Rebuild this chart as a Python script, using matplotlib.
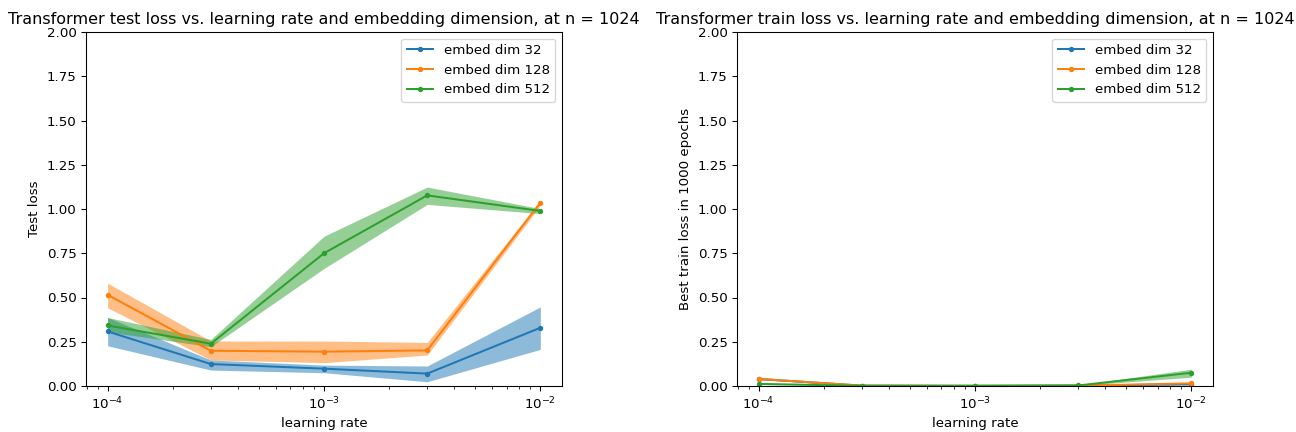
import numpy as np
import matplotlib
matplotlib.use("Agg")
import matplotlib.pyplot as plt

# learning rates swept
learning_rates = [1e-4, 3e-4, 1e-3, 3e-3, 1e-2]
embed_dims = [32, 128, 512]

# test loss (mean, lower, upper) per embed dim
test_mean_32 = [0.308, 0.124, 0.098, 0.070, 0.329]
test_lo_32 = [0.227, 0.090, 0.075, 0.024, 0.207]
test_hi_32 = [0.387, 0.147, 0.118, 0.113, 0.447]

test_mean_128 = [0.515, 0.199, 0.194, 0.201, 1.036]
test_lo_128 = [0.442, 0.147, 0.132, 0.175, 1.020]
test_hi_128 = [0.581, 0.254, 0.254, 0.246, 1.050]

test_mean_512 = [0.342, 0.239, 0.750, 1.077, 0.989]
test_lo_512 = [0.306, 0.222, 0.664, 1.026, 0.974]
test_hi_512 = [0.387, 0.263, 0.846, 1.124, 1.002]

# best train loss (mean, lower, upper) per embed dim
train_mean_32 = [0.040, 0.002, 0.001, 0.002, 0.010]
train_lo_32 = [0.035, 0.001, 0.000, 0.001, 0.006]
train_hi_32 = [0.046, 0.003, 0.002, 0.004, 0.014]

train_mean_128 = [0.040, 0.002, 0.001, 0.002, 0.015]
train_lo_128 = [0.036, 0.001, 0.000, 0.001, 0.012]
train_hi_128 = [0.044, 0.003, 0.002, 0.003, 0.018]

train_mean_512 = [0.012, 0.001, 0.001, 0.003, 0.075]
train_lo_512 = [0.008, 0.000, 0.000, 0.002, 0.050]
train_hi_512 = [0.016, 0.002, 0.002, 0.005, 0.095]

test_data = [(test_mean_32, test_lo_32, test_hi_32),
             (test_mean_128, test_lo_128, test_hi_128),
             (test_mean_512, test_lo_512, test_hi_512)]
train_data = [(train_mean_32, train_lo_32, train_hi_32),
              (train_mean_128, train_lo_128, train_hi_128),
              (train_mean_512, train_lo_512, train_hi_512)]

W, H = 1296, 432
fig = plt.figure(figsize=(13.5, 4.5), dpi=96)
ax1 = fig.add_axes([86 / W, 46 / H, 476 / W, 354 / H])
ax2 = fig.add_axes([737 / W, 46 / H, 476 / W, 354 / H])


def draw(ax, data, title, ylabel):
    for dim, (mean, lo, hi) in zip(embed_dims, data):
        line, = ax.plot(learning_rates, mean, marker='o', markersize=3, label=f"embed dim {dim}")
        ax.fill_between(learning_rates, lo, hi, color=line.get_color(), alpha=0.5, linewidth=0)
    ax.set_xscale('log')
    ax.set_ylim(0, 2)
    ax.set_xlabel("learning rate")
    ax.set_ylabel(ylabel)
    ax.set_title(title)
    ax.legend(loc='upper right')


draw(ax1, test_data, "Transformer test loss vs. learning rate and embedding dimension, at n = 1024", "Test loss")
draw(ax2, train_data, "Transformer train loss vs. learning rate and embedding dimension, at n = 1024",
     "Best train loss in 1000 epochs")

fig.savefig("out.png", dpi=96)
